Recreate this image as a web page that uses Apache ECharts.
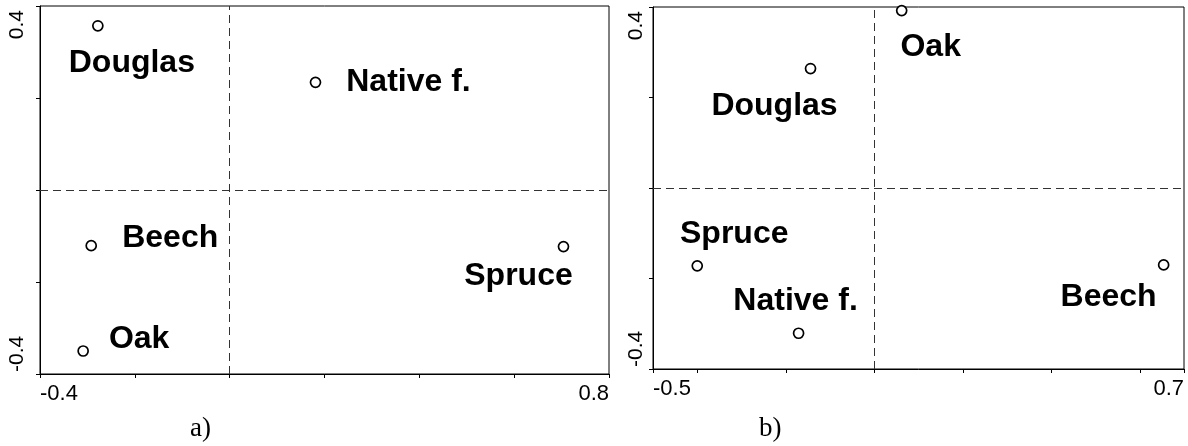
<!DOCTYPE html>
<html lang="en">
<head>
    <meta charset="UTF-8">
    <title>echarts</title>
    <script src="https://cdn.jsdelivr.net/npm/echarts@6/dist/echarts.min.js"></script>
    <style>
        html, body {margin: 0; padding: 0; background: #fff;}
    </style>
</head>
<body>
<div id="myChart" style="width: 1188px;height:446px;"></div>
<script type="text/javascript">
    // panel a
    var speciesA = ['Douglas', 'Native f.', 'Beech', 'Spruce', 'Oak'];
    var axis1A = [-0.278, 0.181, -0.292, 0.704, -0.309];
    var axis2A = [0.357, 0.234, -0.121, -0.123, -0.35];
    var xTicksA = [-0.4, -0.2, 0, 0.2, 0.4, 0.6, 0.8];
    var xLabelsA = [-0.4, 0.8];
    var yTicksA = [-0.4, -0.2, 0, 0.2, 0.4];
    var yLabelsA = [-0.4, 0.4];

    // panel b
    var speciesB = ['Oak', 'Douglas', 'Spruce', 'Native f.', 'Beech'];
    var axis1B = [0.062, -0.144, -0.4, -0.171, 0.654];
    var axis2B = [0.392, 0.264, -0.172, -0.321, -0.17];
    var xTicksB = [-0.5, -0.4, -0.2, 0, 0.2, 0.4, 0.6, 0.7];
    var xLabelsB = [-0.5, 0.7];
    var yTicksB = [-0.4, -0.2, 0, 0.2, 0.4];
    var yLabelsB = [-0.4, 0.4];

    // where each name sits relative to its point (px)
    var offsetA = {'Douglas': [34, 37], 'Native f.': [93, 0], 'Beech': [79, -7], 'Spruce': [-45, 30], 'Oak': [56, -12]};
    var offsetB = {'Oak': [29, 37], 'Douglas': [-36, 38], 'Spruce': [37, -32], 'Native f.': [-3, -32], 'Beech': [-55, 32]};

    var labelFont = 'Liberation Sans, Arial, sans-serif';

    function points(names, xs, ys, offsets) {
        var arr = [];
        for (var i = 0; i < names.length; i++) {
            arr.push({
                name: names[i],
                value: [xs[i], ys[i]],
                label: {offset: offsets[names[i]]}
            });
        }
        return arr;
    }

    function xAxis(idx, min, max, ticks, labels, margin) {
        return {
            type: 'value', gridIndex: idx, min: min, max: max,
            axisLine: {show: true, onZero: false, lineStyle: {color: '#000', width: 1}},
            axisTick: {show: true, customValues: ticks, length: 4, lineStyle: {color: '#000'}},
            axisLabel: {
                customValues: labels, margin: margin, color: '#000', fontSize: 22,
                fontFamily: labelFont, alignMinLabel: 'left', alignMaxLabel: 'right'
            },
            splitLine: {show: false}
        };
    }

    function yAxis(idx, ticks, labels, margin) {
        return {
            type: 'value', gridIndex: idx, min: -0.4, max: 0.4,
            axisLine: {show: true, onZero: false, lineStyle: {color: '#000', width: 1}},
            axisTick: {show: true, customValues: ticks, length: 4, lineStyle: {color: '#000'}},
            axisLabel: {
                customValues: labels, rotate: 90, margin: margin, color: '#000', fontSize: 21,
                fontFamily: labelFont, alignMinLabel: 'left', alignMaxLabel: 'right',
                padding: [0, 4, 0, 2]
            },
            splitLine: {show: false}
        };
    }

    function scatter(idx, data) {
        return {
            type: 'scatter', xAxisIndex: idx, yAxisIndex: idx,
            data: data, symbol: 'circle', symbolSize: 10,
            itemStyle: {color: '#fff', borderColor: '#000', borderWidth: 1.7, opacity: 1},
            label: {
                show: true, position: 'inside', formatter: '{b}',
                align: 'center', verticalAlign: 'middle',
                color: '#000', fontSize: 32, fontWeight: 'bold', fontFamily: labelFont
            },
            markLine: {
                silent: true, symbol: ['none', 'none'], label: {show: false},
                lineStyle: {color: '#333', width: 1, type: [8, 5]},
                data: [{xAxis: 0}, {yAxis: 0}]
            }
        };
    }

    var myChart = echarts.init(document.getElementById('myChart'));
    var option = {
        animation: false,
        backgroundColor: '#fff',
        title: [
            {text: 'a)', left: 185, top: 410, textStyle: {fontFamily: 'Liberation Serif, Times New Roman, serif', fontSize: 27, fontWeight: 'normal', color: '#000'}},
            {text: 'b)', left: 754, top: 410, textStyle: {fontFamily: 'Liberation Serif, Times New Roman, serif', fontSize: 27, fontWeight: 'normal', color: '#000'}}
        ],
        grid: [
            {left: 40, top: 6, width: 569, height: 368, show: true, borderColor: '#000', borderWidth: 1, outerBoundsMode: 'none'},
            {left: 653, top: 7, width: 531, height: 362, show: true, borderColor: '#000', borderWidth: 1, outerBoundsMode: 'none'}
        ],
        xAxis: [
            xAxis(0, -0.4, 0.8, xTicksA, xLabelsA, 9),
            xAxis(1, -0.5, 0.7, xTicksB, xLabelsB, 9)
        ],
        yAxis: [
            yAxis(0, yTicksA, yLabelsA, 12),
            yAxis(1, yTicksB, yLabelsB, 6)
        ],
        series: [
            scatter(0, points(speciesA, axis1A, axis2A, offsetA)),
            scatter(1, points(speciesB, axis1B, axis2B, offsetB))
        ]
    };
    myChart.setOption(option);
</script>
</body>
</html>
